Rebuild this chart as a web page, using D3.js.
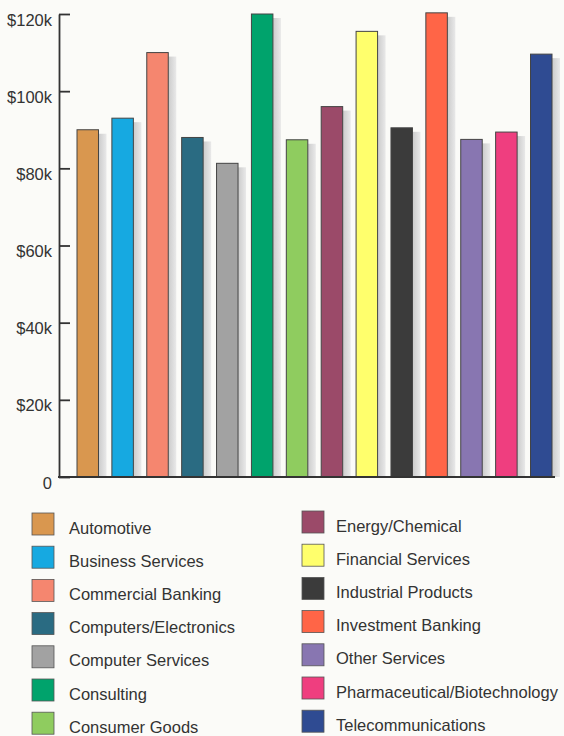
<!DOCTYPE html>
<html>
<head>
<meta charset="utf-8">
<script src="https://cdn.jsdelivr.net/npm/d3@7"></script>
<style>
  html, body { margin: 0; padding: 0; background: #fbfbf8; }
  svg { display: block; }
  text { font-family: "Liberation Sans", Arial, Helvetica, sans-serif; fill: #333; }
</style>
</head>
<body>
<svg id="chart" width="564" height="736"></svg>
<script>
const categories = [
  "Automotive", "Business Services", "Commercial Banking", "Computers/Electronics",
  "Computer Services", "Consulting", "Consumer Goods", "Energy/Chemical",
  "Financial Services", "Industrial Products", "Investment Banking", "Other Services",
  "Pharmaceutical/Biotechnology", "Telecommunications"
];
const salaries = [90000, 93000, 110000, 88000, 81300, 120000, 87400, 96000, 115500, 90500, 120300, 87500, 89400, 109600];
const colors = [
  "#d9974f", "#16a9e1", "#f5866f", "#2a6b82", "#a2a2a2", "#00a36c", "#8fcc5f",
  "#9b4a69", "#ffff6c", "#3b3b3b", "#ff6547", "#8876b1", "#ef3e7f", "#2f4b92"
];
const tickValues = [0, 20000, 40000, 60000, 80000, 100000, 120000];
const tickLabels = ["0", "$20k", "$40k", "$60k", "$80k", "$100k", "$120k"];

const svg = d3.select("#chart");

const x = d3.scaleBand().domain(categories).range([77, 552]).paddingInner(0.384).paddingOuter(0);
const y = d3.scaleLinear().domain([0, 120000]).range([477, 14]);

const defs = svg.append("defs");
const grad = defs.append("linearGradient").attr("id", "shadow").attr("x1", 0).attr("x2", 1).attr("y1", 0).attr("y2", 0);
grad.append("stop").attr("offset", "0%").attr("stop-color", "#cbcbcb");
grad.append("stop").attr("offset", "100%").attr("stop-color", "#e9e9e9");

const bars = svg.append("g");
// shadows
bars.selectAll("rect.sh").data(categories).join("rect")
  .attr("class", "sh")
  .attr("x", d => x(d) + x.bandwidth())
  .attr("y", (d, i) => y(salaries[i]) + 4)
  .attr("width", 8)
  .attr("height", (d, i) => y(0) - y(salaries[i]) - 4)
  .attr("fill", "url(#shadow)");
// bars
bars.selectAll("rect.bar").data(categories).join("rect")
  .attr("class", "bar")
  .attr("x", d => x(d))
  .attr("y", (d, i) => y(salaries[i]))
  .attr("width", x.bandwidth())
  .attr("height", (d, i) => y(0) - y(salaries[i]))
  .attr("fill", (d, i) => colors[i])
  .attr("stroke", "#444")
  .attr("stroke-width", 1);

// y axis
const axis = d3.axisLeft(y)
  .tickValues(tickValues)
  .tickFormat((d, i) => tickLabels[i])
  .tickSizeInner(-11)
  .tickSizeOuter(0)
  .tickPadding(7);
const gy = svg.append("g").attr("transform", "translate(59,0)").call(axis);
gy.select(".domain").attr("stroke", "#333").attr("stroke-width", 1.8);
gy.selectAll(".tick line").attr("stroke", "#333").attr("stroke-width", 1.8);
gy.selectAll(".tick text")
  .attr("font-size", 16.5)
  .attr("font-family", "Liberation Sans, Arial, sans-serif")
  .attr("fill", "#333")
  .attr("dy", "11px");

// baseline
svg.append("line")
  .attr("x1", 58).attr("x2", 555)
  .attr("y1", y(0)).attr("y2", y(0))
  .attr("stroke", "#333").attr("stroke-width", 1.8);

// legend
const leftItems = categories.slice(0, 7);
const rightItems = categories.slice(7);
function legendCol(items, offset, sx, tx, top0, step) {
  const g = svg.append("g");
  const rows = g.selectAll("g").data(items).join("g")
    .attr("transform", (d, i) => `translate(0,${top0 + i * step})`);
  rows.append("rect")
    .attr("x", sx).attr("y", 0).attr("width", 22).attr("height", 22)
    .attr("fill", (d, i) => colors[offset + i])
    .attr("stroke", "#555").attr("stroke-width", 0.8);
  rows.append("text")
    .attr("x", tx).attr("y", 20.5)
    .attr("font-size", 16.5)
    .text(d => d);
}
legendCol(leftItems, 0, 32, 69, 513, 33.2);
legendCol(rightItems, 7, 302, 336, 511, 33.2);
</script>
</body>
</html>
